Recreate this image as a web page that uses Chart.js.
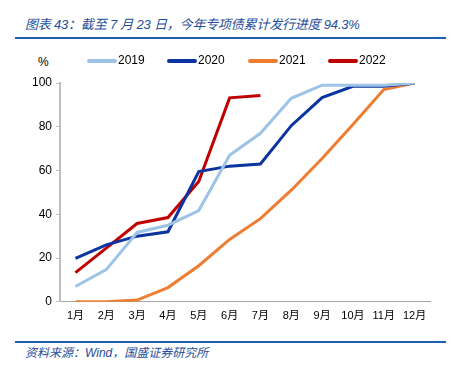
<!DOCTYPE html>
<html><head><meta charset="utf-8">
<script src="https://cdn.jsdelivr.net/npm/chart.js@4"></script>
<style>
html,body{margin:0;padding:0;background:#fff;width:456px;height:376px;overflow:hidden;position:relative;font-family:"Liberation Sans","Noto Sans CJK SC",sans-serif;}
#title{position:absolute;left:25px;top:14px;font-size:13px;color:#1F4E9A;font-style:italic;white-space:nowrap;letter-spacing:-0.2px;}
#src{position:absolute;left:25px;top:343px;font-size:12px;color:#1F4E9A;font-style:italic;white-space:nowrap;}
.rule{position:absolute;left:15px;width:431px;height:2px;background:#1F5FB4;}
#pct{position:absolute;left:38px;top:55px;font-size:12px;color:#000;}
#wrap{position:absolute;left:0;top:40px;width:456px;height:291px;}
</style></head>
<body>
<div id="title">图表 43：截至 7 月 23 日，今年专项债累计发行进度 94.3%</div>
<div class="rule" style="top:37px"></div>
<div id="pct">%</div>
<div id="wrap"><canvas id="c" width="456" height="291"></canvas></div>
<div class="rule" style="top:341px"></div>
<div id="src">资料来源：Wind，国盛证券研究所</div>
<script>
const months = ["1月","2月","3月","4月","5月","6月","7月","8月","9月","10月","11月","12月"];
const s2019 = [7, 14.7, 31.7, 35, 41.7, 67, 77, 93, 99, 99, 99, 100];
const s2020 = [19.8, 26, 30, 32, 59.5, 62, 63, 80.5, 93.3, 98.5, 98.5, 100];
const s2021 = [0, 0, 0.8, 6.5, 16.5, 28.5, 38, 51, 65.5, 81, 97, 100];
const s2022 = [13.3, 24.5, 35.8, 38.5, 55, 93.2, 94.3];
const names = ["2019","2020","2021","2022"];
const colors = ["#9DC3E6","#0B34A0","#ED7D31","#C00000"];
const series = [s2019, s2020, s2021, s2022];
const fam = '"Liberation Sans","Noto Sans CJK SC",sans-serif';
const font = {family:fam, size:12};
const legendPlugin = {
  id:'customLegend',
  afterDraw(chart){
    const ctx = chart.ctx;
    const xs = [88, 168, 249, 329];
    const y = 21;
    ctx.save();
    chart.data.datasets.forEach((ds,i)=>{
      ctx.strokeStyle = ds.borderColor; ctx.lineWidth = 4; ctx.lineCap='round';
      ctx.beginPath(); ctx.moveTo(xs[i]+1, y); ctx.lineTo(xs[i]+27, y); ctx.stroke();
      ctx.fillStyle = '#000'; ctx.font = '12px '+fam; ctx.textBaseline='middle'; ctx.textAlign='left';
      ctx.fillText(ds.label, xs[i]+30, y);
    });
    ctx.restore();
  }
};
new Chart(document.getElementById('c'), {
  type:'line',
  data:{labels:months, datasets: series.map((d,i)=>({label:names[i], data:d, borderColor:colors[i], backgroundColor:colors[i], borderWidth:3, pointRadius:0, tension:0, fill:false}))},
  options:{
    responsive:false, animation:false,
    layout:{padding:{left:28, right:26, top:43, bottom:0}},
    plugins:{ tooltip:{enabled:false}, legend:{display:false} },
    scales:{
      x:{offset:true, grid:{display:false, drawTicks:false, offset:true}, border:{display:true, color:'#A6A6A6', width:1},
         ticks:{color:'#000', font:{...font, size:11}, padding:8, maxRotation:0, autoSkip:false}},
      y:{min:0, max:100, grid:{display:true, drawOnChartArea:false, drawTicks:true, tickLength:4, color:'#BFBFBF'},
         border:{display:true, color:'#BFBFBF', width:2},
         ticks:{stepSize:20, color:'#000', font:font, padding:4}}
    }
  },
  plugins:[legendPlugin]
});
</script>
</body></html>
